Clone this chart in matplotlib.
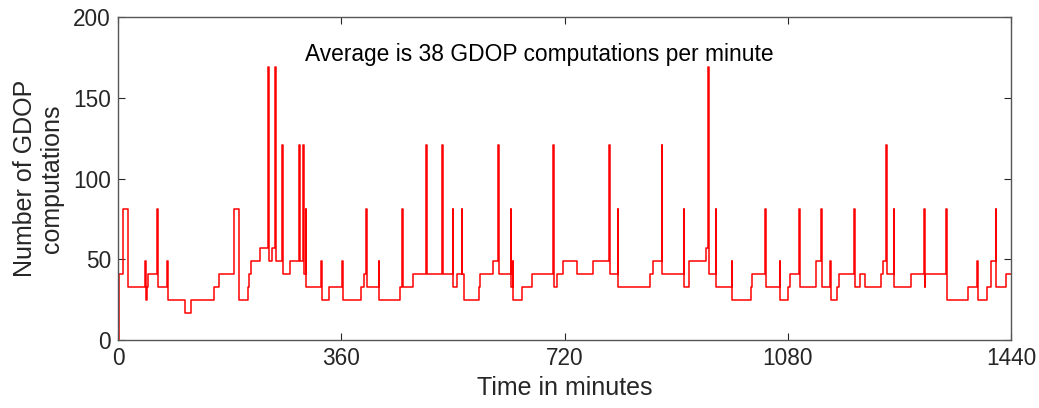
import matplotlib
matplotlib.use("Agg")
import matplotlib.pyplot as plt

plt.rcParams['font.family'] = ['Liberation Sans', 'DejaVu Sans']

# Breakpoints of the step series (minute at which the count changes, new count)
change_minutes = [
    0, 1, 8, 16, 43, 45, 46.5, 49, 63, 64, 79, 80, 108, 118, 154, 163, 187, 195,
    210, 212, 214, 228.5, 242, 243, 249, 253.5, 254.5, 264.5, 265.5, 277, 292, 293,
    298.5, 299.5, 302.5, 303.5, 327.5, 328.5, 340, 362, 363, 391.5, 396, 400.5, 401.5,
    420.5, 421.5, 455, 458, 459, 476.5, 496.5, 497.5, 523, 524, 539.5, 540.5, 546.5,
    554, 555, 557.5, 582, 584, 605.5, 613, 614, 633.5, 634.5, 636.5, 637.5, 651.5,
    668, 701.5, 702.5, 708, 717.5, 739.5, 766.5, 792, 793, 806, 807, 858.5, 862,
    877, 878, 912.5, 913.5, 920, 921.5, 948, 951.5, 952.5, 963.5, 964.5, 989.5,
    990.5, 1020.5, 1023, 1043.5, 1044.5, 1067, 1068, 1080, 1083, 1098, 1099, 1125.5,
    1133.5, 1134.5, 1148.5, 1149.5, 1160, 1162.5, 1187, 1188, 1196.5, 1204.5, 1230,
    1233.5, 1238.5, 1239.5, 1251, 1252, 1279.5, 1300, 1301, 1302, 1335, 1336, 1371,
    1385.5, 1386.5, 1402, 1408, 1415.5, 1416.5, 1432.5, 1440,
]
counts = [
    0, 41, 81, 33, 49, 25, 33, 41, 81, 33, 49, 25, 17, 25, 33, 41, 81, 25,
    33, 41, 49, 57, 169, 49, 57, 169, 49, 121, 41, 49, 121, 49,
    121, 41, 81, 33, 49, 25, 33, 49, 25, 33, 41, 81, 33,
    49, 25, 33, 81, 33, 41, 121, 41, 121, 41, 81, 33, 41,
    81, 41, 25, 33, 41, 49, 121, 41, 81, 33, 49, 25, 33,
    41, 121, 33, 41, 49, 41, 49, 121, 41, 81, 33, 41, 49,
    121, 41, 81, 33, 41, 49, 57, 169, 41, 81, 33, 49,
    25, 33, 41, 81, 33, 49, 25, 33, 41, 81, 33, 49,
    81, 33, 49, 25, 33, 41, 81, 33, 41, 33, 41,
    49, 121, 41, 81, 33, 41, 81, 33, 41, 81, 25, 33,
    49, 25, 33, 49, 81, 33, 41, 41,
]

x_ticks = [0, 360, 720, 1080, 1440]
y_ticks = [0, 50, 100, 150, 200]
annotation = "Average is 38 GDOP computations per minute"

fig = plt.figure(figsize=(10.39, 4.08), dpi=100)
ax = fig.add_axes([118 / 1039, 1 - 340 / 408, (1011 - 118) / 1039, (340 - 17) / 408])

ax.plot(change_minutes, counts, drawstyle='steps-post', color='#ff0000', linewidth=1.1)

ax.set_xlim(0, 1440)
ax.set_ylim(0, 200)
ax.set_xticks(x_ticks)
ax.set_yticks(y_ticks)
ax.tick_params(direction='in', top=True, right=True, length=5, width=0.8,
               labelsize=16.3, colors='#262626')
ax.tick_params(axis='x', pad=5)
ax.tick_params(axis='y', pad=5)
for s in ax.spines.values():
    s.set_color('#555555')
    s.set_linewidth(1.0)

ax.set_xlabel("Time in minutes", fontsize=18, color='#262626', labelpad=4.5)
ax.set_ylabel("Number of GDOP\ncomputations", fontsize=18, color='#262626',
              linespacing=1.2)
ax.yaxis.set_label_coords(-0.06, 0.5)
ax.text(301, 176.5, annotation, fontsize=16.4, color='#000000', ha='left', va='center')

fig.savefig("out.png", dpi=100)
